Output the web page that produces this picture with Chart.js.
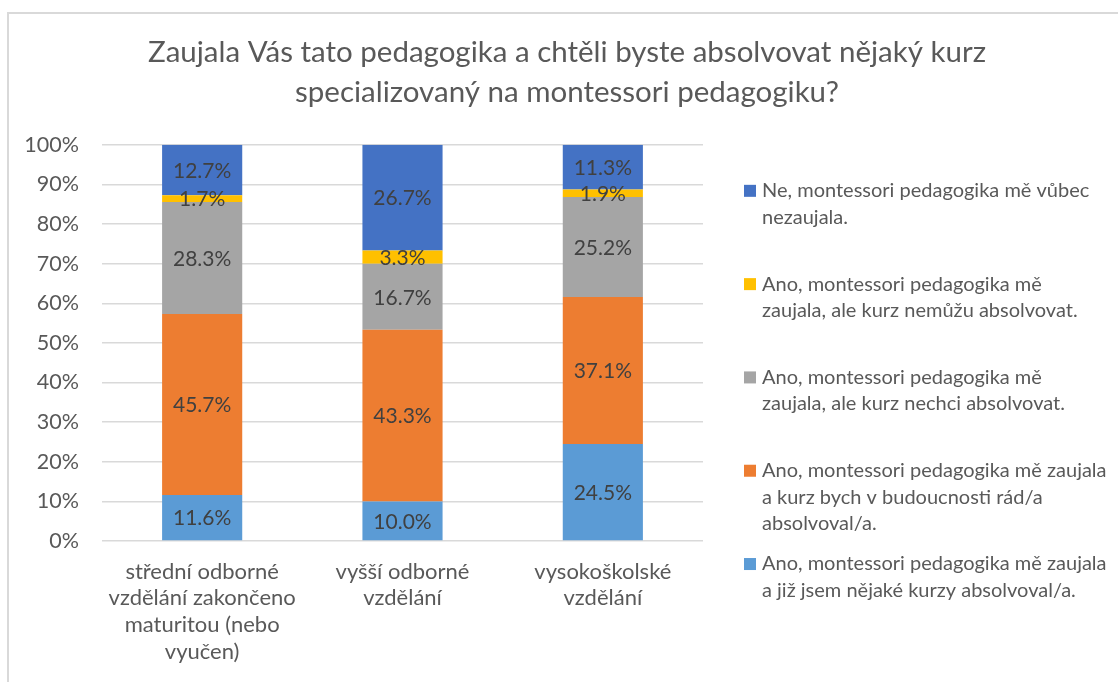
<!DOCTYPE html>
<html>
<head>
<meta charset="utf-8">
<script src="https://cdn.jsdelivr.net/npm/chart.js@4"></script>
<style>
  html, body { margin: 0; padding: 0; background: #fff; }
  #wrap { width: 1118px; height: 682px; position: relative; }
</style>
</head>
<body>
<div id="wrap"><canvas id="c" width="1118" height="682"></canvas></div>
<script>
const categories = [
  ["střední odborné", "vzdělání zakončeno", "maturitou (nebo", "vyučen)"],
  ["vyšší odborné", "vzdělání"],
  ["vysokoškolské", "vzdělání"]
];
const titleLines = [
  "Zaujala Vás tato pedagogika a chtěli byste absolvovat nějaký kurz",
  "specializovaný na montessori pedagogiku?"
];
// series, bottom to top of the stack
const seriesLabels = [
  ["Ano, montessori pedagogika mě zaujala", "a již jsem nějaké kurzy absolvoval/a."],
  ["Ano, montessori pedagogika mě zaujala", "a kurz bych v budoucnosti rád/a", "absolvoval/a."],
  ["Ano, montessori pedagogika mě", "zaujala, ale kurz nechci absolvovat."],
  ["Ano, montessori pedagogika mě", "zaujala, ale kurz nemůžu absolvovat."],
  ["Ne, montessori pedagogika mě vůbec", "nezaujala."]
];
const jizAbsolvoval = [11.6, 10.0, 24.5];
const radAbsolvoval = [45.7, 43.3, 37.1];
const nechci = [28.3, 16.7, 25.2];
const nemuzu = [1.7, 3.3, 1.9];
const nezaujala = [12.7, 26.7, 11.3];
const seriesValues = [jizAbsolvoval, radAbsolvoval, nechci, nemuzu, nezaujala];
const seriesColors = ["#5B9BD5", "#ED7D31", "#A5A5A5", "#FFC000", "#4472C4"];
const yTicks = [0, 10, 20, 30, 40, 50, 60, 70, 80, 90, 100];

const FONT = "Lato, 'DejaVu Sans', sans-serif";
const TXT = "#595959";

const framePlugin = {
  id: 'frame',
  beforeDraw(chart) {
    const ctx = chart.ctx;
    ctx.save();
    ctx.fillStyle = '#fff';
    ctx.fillRect(0, 0, chart.width, chart.height);
    ctx.strokeStyle = '#D9D9D9';
    ctx.lineWidth = 2;
    ctx.beginPath();
    ctx.moveTo(8, chart.height);
    ctx.lineTo(8, 13);
    ctx.lineTo(chart.width, 13);
    ctx.stroke();
    ctx.restore();
  }
};

const dataLabelPlugin = {
  id: 'dataLabels',
  afterDatasetsDraw(chart) {
    const ctx = chart.ctx;
    ctx.save();
    ctx.font = "21px " + FONT;
    ctx.fillStyle = "#404040";
    ctx.textAlign = 'center';
    ctx.textBaseline = 'middle';
    chart.data.datasets.forEach((ds, di) => {
      const meta = chart.getDatasetMeta(di);
      meta.data.forEach((el, i) => {
        const v = ds.data[i];
        const y = (el.y + el.base) / 2;
        ctx.fillText(v.toFixed(1) + '%', el.x, y + 1);
      });
    });
    ctx.restore();
  }
};

const legendPlugin = {
  id: 'customLegend',
  afterDraw(chart) {
    const ctx = chart.ctx;
    const area = chart.chartArea;
    const ds = chart.data.datasets;
    const x0 = area.right + 41;
    const step = 93.3;
    const lh = 26.5;
    ctx.save();
    ctx.font = "20px " + FONT;
    ctx.textBaseline = 'middle';
    ctx.textAlign = 'left';
    for (let k = 0; k < ds.length; k++) {
      const d = ds[ds.length - 1 - k];
      const yc = area.top + 46 + k * step;
      ctx.fillStyle = d.backgroundColor;
      ctx.fillRect(x0, yc - 6, 12, 12);
      ctx.fillStyle = TXT;
      d.label.forEach((line, j) => {
        ctx.fillText(line, x0 + 18, yc + j * lh);
      });
    }
    ctx.restore();
  }
};

const datasets = seriesValues.map((vals, i) => ({
  label: seriesLabels[i],
  data: vals,
  backgroundColor: seriesColors[i],
  borderWidth: 0,
  categoryPercentage: 1.0,
  barPercentage: 0.4,
  yAxisID: 'y'
}));

new Chart(document.getElementById('c'), {
  type: 'bar',
  data: { labels: categories, datasets },
  plugins: [framePlugin, dataLabelPlugin, legendPlugin],
  options: {
    responsive: false,
    animation: false,
    layout: { padding: { left: 16, right: 0, top: 0, bottom: 0 } },
    plugins: {
      legend: { display: false },
      tooltip: { enabled: false },
      title: {
        display: true,
        text: titleLines,
        color: TXT,
        font: { family: FONT, size: 29.5, weight: 'normal', lineHeight: 1.37 },
        padding: { top: 32, bottom: 32 }
      }
    },
    scales: {
      x: {
        stacked: true,
        grid: { display: false, drawTicks: false },
        border: { display: false },
        ticks: {
          color: TXT,
          font: { family: FONT, size: 22, lineHeight: 1.22 },
          padding: 17,
          maxRotation: 0,
          autoSkip: false
        },
        afterFit(axis) { axis.height = 141; }
      },
      y: {
        stacked: true,
        position: 'left',
        min: 0,
        max: 100,
        afterBuildTicks(axis) { axis.ticks = yTicks.map(v => ({ value: v })); },
        grid: { color: '#D9D9D9', lineWidth: 1.5, drawTicks: false },
        border: { display: false },
        ticks: {
          color: TXT,
          font: { family: FONT, size: 21.5 },
          padding: 23,
          callback: v => v + '%'
        },
        afterFit(axis) { axis.width = 86; }
      },
      legendSpace: {
        type: 'linear',
        position: 'right',
        min: 0,
        max: 100,
        grid: { display: false, drawTicks: false },
        border: { display: false },
        ticks: { display: false },
        afterFit(axis) { axis.width = 415; }
      }
    }
  }
});
</script>
</body>
</html>
